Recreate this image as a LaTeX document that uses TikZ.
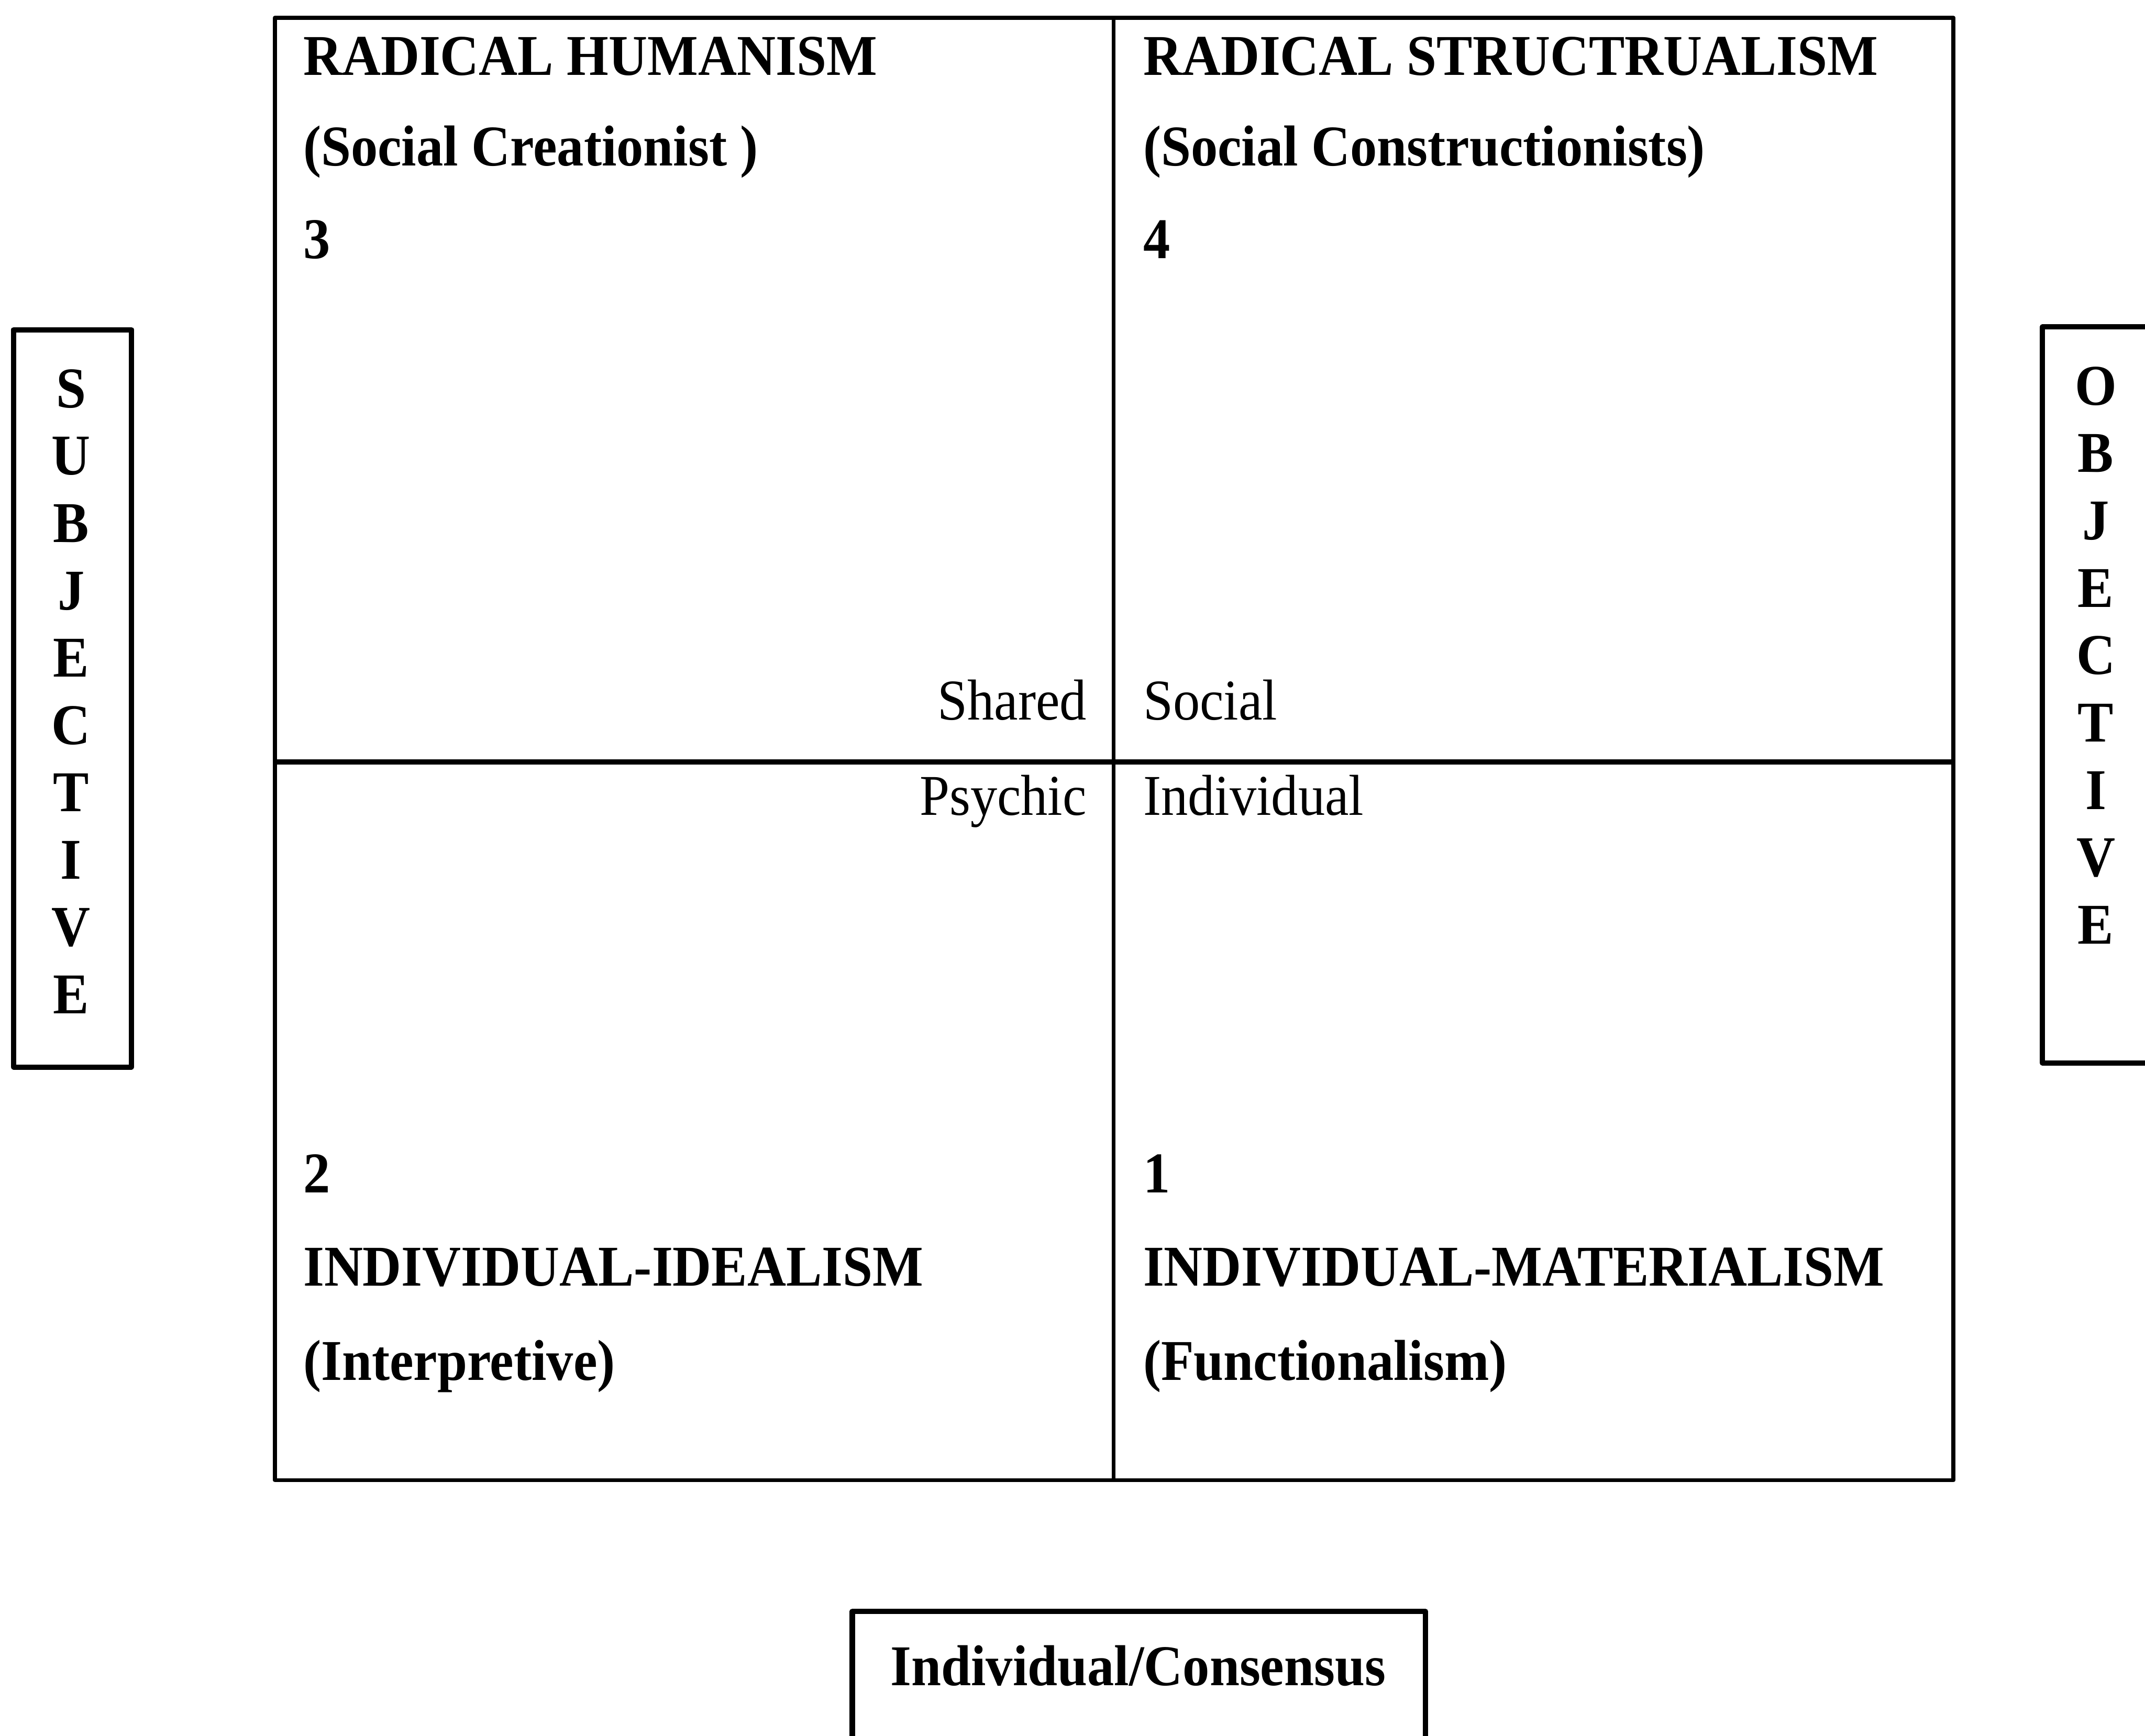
\documentclass[tikz,border=0pt]{standalone}
\usepackage{fontspec}
\setmainfont{Liberation Serif}[FakeStretch=0.93]
\begin{document}
\begin{tikzpicture}[line join=round, font=\fontsize{12}{14}\selectfont,
  title/.style={anchor=base west, inner sep=0pt, font=\fontsize{12}{14}\selectfont\bfseries},
  plain/.style={anchor=base west, inner sep=0pt},
  letter/.style={anchor=base, inner sep=0pt, font=\fontsize{12}{14}\selectfont\bfseries}]
\useasboundingbox (0,0) rectangle (15.68,12.69);
% main square with its four quadrants
\coordinate (TL) at (2.01,12.56);
\coordinate (BR) at (14.28,1.87);
\coordinate (M) at (8.14,7.12);
\draw[line width=0.85pt] (TL) rectangle (BR);
\draw[line width=0.7pt] (M |- TL) -- (M |- BR);
\draw[line width=1pt] (TL |- M) -- (BR |- M);
% upper quadrants
\node[title] (rh) at (2.21,12.14) {RADICAL HUMANISM};
\node[title] (sc) at (2.21,11.48) {(Social Creationist )};
\node[title] (n3) at (2.21,10.80) {3};
\node[title] (rs) at (8.35,12.14) {RADICAL STRUCTRUALISM};
\node[title] (sk) at (8.35,11.48) {(Social Constructionists)};
\node[title] (n4) at (8.35,10.80) {4};
% labels round the centre
\node[plain, anchor=base east] (sh) at (7.95,7.43) {Shared};
\node[plain] (so) at (8.35,7.43) {Social};
\node[plain, anchor=base east] (ps) at (7.95,6.73) {Psychic};
\node[plain] (iv) at (8.35,6.73) {Individual};
% lower quadrants
\node[title] (n2) at (2.21,3.97) {2};
\node[title] (ii) at (2.21,3.29) {INDIVIDUAL-IDEALISM};
\node[title] (ip) at (2.21,2.60) {(Interpretive)};
\node[title] (n1) at (8.35,3.97) {1};
\node[title] (im) at (8.35,3.29) {INDIVIDUAL-MATERIALISM};
\node[title] (fu) at (8.35,2.60) {(Functionalism)};
% subjective box (left)
\draw[line width=1.1pt] (0.10,10.28) rectangle (0.96,4.89);
\foreach \l [count=\i] in {S,U,B,J,E,C,T,I,V,E}
  \node[letter] (sub\i) at (0.52,{9.71-0.492*(\i-1)}) {\l};
% objective box (right, cut by the edge)
\draw[line width=1.1pt] (16.2,10.30) -- (14.93,10.30) -- (14.93,4.92) -- (16.2,4.92);
\foreach \l [count=\i] in {O,B,J,E,C,T,I,V,E}
  \node[letter] (obj\i) at (15.32,{9.73-0.4925*(\i-1)}) {\l};
% consensus box (bottom, cut by the edge)
\draw[line width=1.1pt] (6.23,-0.5) -- (6.23,0.91) -- (10.42,0.91) -- (10.42,-0.5);
\node[letter] (ic) at (8.32,0.37) {Individual/Consensus};
\end{tikzpicture}
\end{document}
